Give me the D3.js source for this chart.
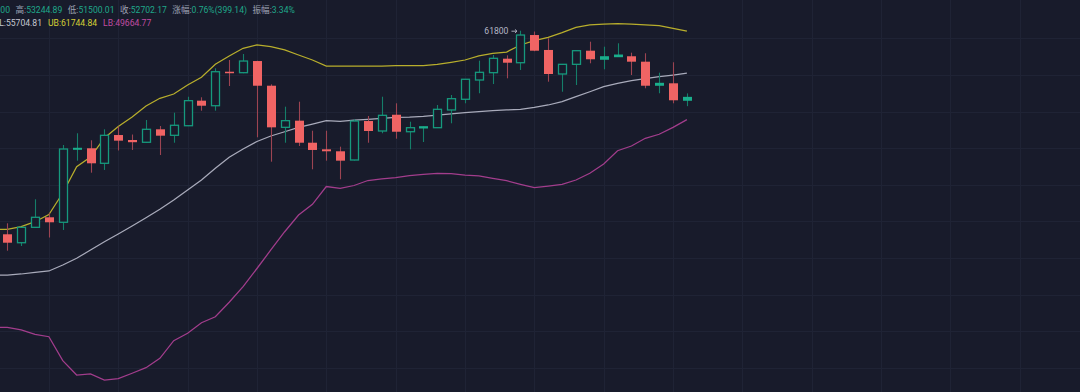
<!DOCTYPE html>
<html><head><meta charset="utf-8">
<script src="https://cdn.jsdelivr.net/npm/d3@7"></script>
<style>html,body{margin:0;padding:0;background:#181b2b;overflow:hidden}svg{display:block}</style>
</head><body><svg id="c" width="1080" height="392"></svg>
<script>
// ---- data (prices) ----
const opens  = [34010,32860,34960,36330,35650,45610,45750,43700,47560,46880,46570,48340,47520,48830,52250,51560,56200,56070,57660,54290,48610,49520,46510,45610,45340,44150,49470,48110,50330,48010,48520,48560,50980,52440,55070,56070,57980,57430,61210,59170,55890,57210,59070,57900,58250,58310,57570,54350,54620,52303.00];
const highs  = [35510,34960,38790,36880,46200,47800,46840,48340,48720,47630,49610,48790,50610,52790,52710,56670,57800,58620,57700,54480,51430,52110,48150,48150,45970,49710,50160,52790,51890,49380,48720,51660,53020,55210,57710,58480,58440,61800,61690,60760,57230,59100,60300,59620,60080,58800,58720,56070,57490,53244.89];
const lows   = [31770,32410,34910,33570,34600,44060,42420,42790,45450,45520,46510,44830,46510,48790,50880,50880,54250,55990,47250,43920,46510,46060,42880,44060,41520,44080,46510,47800,47060,45610,46610,48520,49160,51890,53260,54520,55300,56440,59000,54840,53470,54390,57350,56530,58250,55750,53940,53260,51890,51500.01];
const closes = [32860,34960,36330,35650,45650,45750,43700,47520,46790,46580,48340,47470,48890,52250,51560,56200,56030,57660,54290,48610,49520,46510,45520,45340,44060,49470,48110,50250,48010,48560,48700,51070,52520,55170,56120,58030,57430,61210,59070,55890,57210,59070,57900,58250,58480,57570,54290,54620,52303.03,52702.17];
// Bollinger bands, first value belongs to the candle just left of the view (index -1)
const upperBand  = [34660,34690,35050,35730,36710,39650,43240,44560,47150,48720,50020,51520,52570,53160,54390,55440,57210,58350,59400,59850,59620,59170,58480,57800,56980,56980,56980,56980,56980,57020,57020,57020,57210,57490,57800,58350,58720,58890,59850,60440,60900,61530,62260,62580,62710,62760,62710,62580,62480,62130,61744.84];
const middleBand = [28450,28450,28590,28820,29000,29820,30730,31870,33000,34050,35140,36270,37420,38690,40060,41420,43020,44520,45650,46680,47430,48010,48610,49060,49520,49430,49610,49710,49840,49980,50020,50120,50290,50430,50610,50770,50880,50980,51070,51340,51660,52110,52790,53470,54160,54620,54980,55250,55520,55750,56000];
const lowerBand  = [21310,21310,20950,20360,20030,16760,14800,14940,14120,14300,15040,15800,17080,19490,20500,21940,22760,24730,26860,29340,31870,34360,36640,38100,40530,40290,40670,41350,41560,41760,42030,42200,42340,42280,42100,41970,41650,41330,40830,40370,40600,40830,41420,42340,43600,45420,46060,47110,47660,48610,49664.77];
const gridPrices = [60760,55760,50760,45760,40760,35760,30760,25760,20760,15760];
const gridCandles = [3,8,13,18,23,28,33,38,43,48,53,58,63,68,73];
const highMarkLabel = "61800";
const infoLabels = ["开","高","低","收","涨幅","振幅"];
const infoValues = ["52303.00","53244.89","51500.01","52702.17","0.76%(399.14)","3.34%"];
const bollLabels = ["BOLL","UB","LB"];
const bollValues = ["55704.81","61744.84","49664.77"];

// ---- styles ----
const BG = "#181b2b", GRID = "#1f2335";
const UP = "#16997d", UPFILL = "#1aae8c", UPWICK = "#157e69";
const DOWN = "#f06464", DOWNWICK = "#9c4452";
const C_UB = "#b8ae2c", C_MB = "#a9abbb", C_LB = "#a23d8c";
const FONT = "Roboto, 'Noto Sans CJK SC', sans-serif";

const W = 1080, H = 392;
const svg = d3.select("#c");
svg.append("rect").attr("width", W).attr("height", H).attr("fill", BG);

const x = d3.scaleLinear().domain([0, 49]).range([7.3, 686.9]);
const y = d3.scaleLinear().domain([12482.6, 65990.6]).range([H, 0]);

// grid
const g = svg.append("g");
g.selectAll("line.h").data(gridPrices).join("line")
  .attr("x1", 0).attr("x2", W)
  .attr("y1", d => Math.round(y(d)) + 0.5).attr("y2", d => Math.round(y(d)) + 0.5)
  .attr("stroke", GRID).attr("stroke-width", 1);
g.selectAll("line.v").data(gridCandles).join("line")
  .attr("y1", 0).attr("y2", H)
  .attr("x1", d => Math.round(x(d)) + 0.5).attr("x2", d => Math.round(x(d)) + 0.5)
  .attr("stroke", GRID).attr("stroke-width", 1);

// bands
const bandIdx = d3.range(-1, 50);
const line = d3.line().x((d, i) => x(bandIdx[i])).y(d => y(d)).curve(d3.curveLinear);
[[upperBand, C_UB], [middleBand, C_MB], [lowerBand, C_LB]].forEach(([arr, col]) => {
  svg.append("path").attr("d", line(arr)).attr("fill", "none")
    .attr("stroke", col).attr("stroke-width", 1.25);
});

// candles
const candles = opens.map((o, i) => ({i, o, h: highs[i], l: lows[i], c: closes[i], up: closes[i] >= o}));
const cg = svg.append("g");
const bw = 9;
candles.forEach(d => {
  const cx = Math.round(x(d.i));
  cg.append("line")
    .attr("x1", cx + 0.5).attr("x2", cx + 0.5)
    .attr("y1", y(d.h)).attr("y2", y(d.l))
    .attr("stroke", d.up ? UPWICK : DOWNWICK).attr("stroke-width", 1.1);
  const top = y(Math.max(d.o, d.c)), bot = y(Math.min(d.o, d.c));
  const hgt = bot - top;
  if (d.up) {
    if (hgt < 3) {
      cg.append("rect").attr("x", cx - 4).attr("y", top - 0.5)
        .attr("width", bw).attr("height", Math.max(2, hgt + 1)).attr("fill", UPFILL);
    } else {
      cg.append("rect").attr("x", cx - 3.5).attr("y", top)
        .attr("width", bw - 1).attr("height", hgt)
        .attr("fill", BG).attr("stroke", UP).attr("stroke-width", 1.3);
    }
  } else {
    cg.append("rect").attr("x", cx - 4).attr("y", top)
      .attr("width", bw).attr("height", Math.max(1.5, hgt)).attr("fill", DOWN);
  }
});

// high marker label
const hi = d3.maxIndex(highs);
const hx = x(hi), hy = y(highs[hi]);
svg.append("text").attr("x", hx - 12).attr("y", hy + 3)
  .attr("text-anchor", "end").attr("font-family", FONT).attr("font-size", 8.6)
  .attr("fill", "#b4b7c6").text(highMarkLabel);
svg.append("path")
  .attr("d", `M${hx-9},${hy+0.5}L${hx-3.5},${hy+0.5}M${hx-5.5},${hy-1.3}L${hx-3.5},${hy+0.5}L${hx-5.5},${hy+2.3}`)
  .attr("stroke", "#b4b7c6").attr("stroke-width", 0.9).attr("fill", "none");

// header line 1 (left part is cut by the chart edge, as in the source)
const LABEL = "#9da1b3", VAL = "#1fa88a";
const t1 = svg.append("text").attr("y", 13).attr("font-family", FONT).attr("font-size", 8.6);
infoLabels.forEach((lab, k) => {
  t1.append("tspan").attr("dx", k === 0 ? 0 : 5.5).attr("fill", LABEL).text(lab + ":");
  t1.append("tspan").attr("fill", VAL).text(infoValues[k]);
});
const firstLen = t1.node().getSubStringLength(0, (infoLabels[0] + ":" + infoValues[0]).length);
t1.attr("x", 15.5 - 5.5 - firstLen);

// header line 2
const bollColors = ["#c6c8d2", "#d5cf36", "#c04ca2"];
const t2 = svg.append("text").attr("y", 26).attr("font-family", FONT).attr("font-size", 8.6);
bollLabels.forEach((lab, k) => {
  t2.append("tspan").attr("dx", k === 0 ? 0 : 6).attr("fill", bollColors[k]).text(lab + ":" + bollValues[k]);
});
const firstLen2 = t2.node().getSubStringLength(0, (bollLabels[0] + ":" + bollValues[0]).length);
t2.attr("x", 42 - firstLen2);
</script>
</body></html>
